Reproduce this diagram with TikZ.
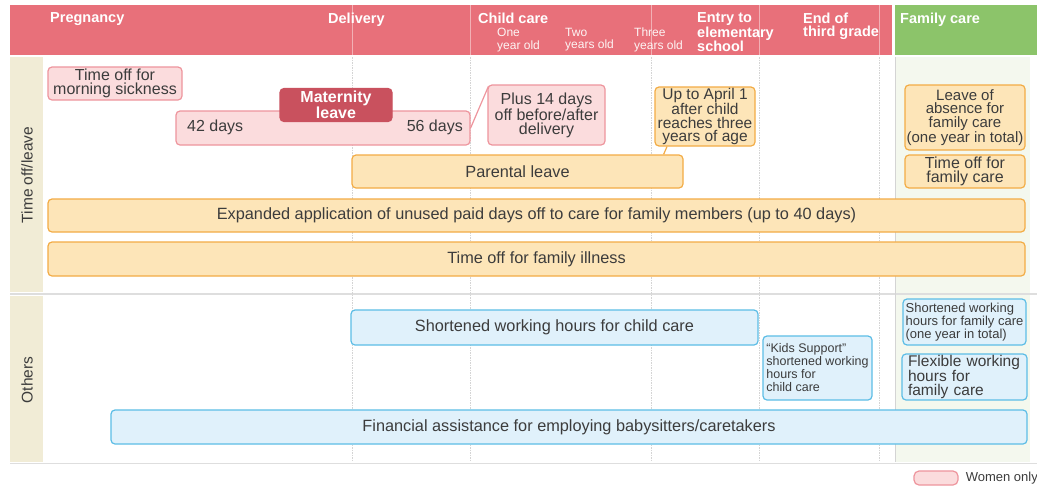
\documentclass[tikz,border=0pt]{standalone}
\usepackage{fontspec}
\setmainfont{Liberation Sans}
\usepackage{tikz}
\usetikzlibrary{positioning, calc}

\definecolor{hdrred}{HTML}{E8707A}
\definecolor{hdrgreen}{HTML}{8CC46A}
\definecolor{sidebeige}{HTML}{F1ECD6}
\definecolor{carebg}{HTML}{F4F8EE}
\definecolor{gridgray}{HTML}{D4D4D4}
\definecolor{rulegray}{HTML}{DEDEDE}
\definecolor{txt}{HTML}{3C3C3C}
\definecolor{pinkfill}{HTML}{FBDCDD}
\definecolor{pinkline}{HTML}{EE959D}
\definecolor{matdark}{HTML}{C9515E}
\definecolor{orfill}{HTML}{FDE5B8}
\definecolor{orline}{HTML}{F3AC45}
\definecolor{blfill}{HTML}{E0F1FB}
\definecolor{blline}{HTML}{5CBDE6}

\begin{document}
\begin{tikzpicture}[x=1pt, y=-1pt,
    box/.style={rounded corners=4pt, line width=1.2pt, inner sep=0pt, align=center,
        text=txt, font=\fontsize{16.3}{14}\selectfont},
    pinkbox/.style={box, draw=pinkline, fill=pinkfill},
    orbox/.style={box, draw=orline, fill=orfill},
    blbox/.style={box, draw=blline, fill=blfill},
    hdr/.style={anchor=north west, inner sep=0pt, align=left, text=white,
        font=\bfseries\fontsize{14.5}{13}\selectfont},
    hdrsub/.style={anchor=north west, inner sep=0pt, align=left, text=white!92!hdrred,
        font=\fontsize{12}{12.5}\selectfont},
    side/.style={rotate=90, inner sep=0pt, text=txt, font=\fontsize{15.5}{15}\selectfont}]
    \useasboundingbox (0,0) rectangle (1037,488);
    % Backgrounds
    \fill[white] (0,0) rectangle (1037,488);
    \fill[hdrred] (10,5) rectangle (892,55);
    \fill[hdrgreen] (895,5) rectangle (1037,55);
    \fill[carebg] (895,57) rectangle (1030,462);
    \fill[sidebeige] (10,57) rectangle (43,292);
    \fill[sidebeige] (10,296) rectangle (43,462);
    \draw[rulegray, line width=1.5pt] (10,294) -- (1037,294);
    \draw[rulegray, line width=1.5pt] (10,463.5) -- (1037,463.5);
    \draw[gridgray, line width=0.8pt] (895,57) -- (895,462);
    % Time marks
    \foreach \x in {352, 470, 651, 759, 879} {
        \draw[white, opacity=0.45, line width=0.8pt] (\x,5) -- (\x,55);
        \draw[gridgray, line width=0.8pt, dash pattern=on 1.5pt off 1pt] (\x,57) -- (\x,462);
    }
    % Header labels
    \node[hdr] (pregnancy) at (50,12.5) {Pregnancy};
    \node[hdr] (delivery) at (328,12.5) {Delivery};
    \node[hdr] (childcare) at (478,12.5) {Child care};
    \node[hdrsub] (oneyear) at (497,28) {One\\year old};
    \node[hdrsub] (twoyears) at (565,28) {Two\\years old};
    \node[hdrsub] (threeyears) at (634,28) {Three\\years old};
    \node[hdr] (entry) at (697,12.5) {Entry to\\elementary\\school};
    \node[hdr] (thirdgrade) at (803,12.5) {End of\\third grade};
    \node[hdr] (familycare) at (900,12.5) {Family care};
    % Side labels
    \node[side] (timeoff) at (27,175) {Time off/leave};
    \node[side] (others) at (27,380) {Others};
    % Time off / leave
    \node[pinkbox, minimum width=134, minimum height=33, font=\fontsize{16}{14}\selectfont] (morning) at (115,83.5) {Time off for\\morning sickness};
    \node[pinkbox, minimum width=294, minimum height=34] (matbar) at (323,128) {};
    \node[inner sep=0pt, anchor=west, text=txt, font=\fontsize{16}{14}\selectfont] (days42) at (187,127) {42 days};
    \node[inner sep=0pt, anchor=east, text=txt, font=\fontsize{16}{14}\selectfont] (days56) at (463,127) {56 days};
    \node[box, fill=matdark, draw=matdark, text=white, font=\bfseries\fontsize{16}{14}\selectfont,
        minimum width=112, minimum height=33] (matleave) at (336,105) {Maternity\\leave};
    \node[pinkbox, minimum width=117, minimum height=60, font=\fontsize{16}{14}\selectfont] (plus14) at (546.5,115) {Plus 14 days\\off before/after\\delivery};
    \node[orbox, minimum width=100, minimum height=59, font=\fontsize{15.5}{13.5}\selectfont] (april) at (705,116.5)
        {Up to April 1\\after child\\reaches three\\years of age};
    \node[orbox, minimum width=331, minimum height=33] (parental) at (517.5,171.5) {Parental leave};
    \node[orbox, minimum width=977, minimum height=33] (expanded) at (536.5,215.5)
        {Expanded application of unused paid days off to care for family members (up to 40 days)};
    \node[orbox, minimum width=977, minimum height=34] (illness) at (536.5,259) {Time off for family illness};
    \node[orbox, minimum width=120, minimum height=65, font=\fontsize{15}{13.5}\selectfont] (absence) at (965,117.5)
        {Leave of\\absence for\\family care\\(one year in total)};
    \node[orbox, minimum width=120, minimum height=33, font=\fontsize{16}{14}\selectfont] (careoff) at (965,171.5) {Time off for\\family care};
    \draw[pinkline, line width=1.2pt] (matbar.east) -- ([shift={(1,2)}]plus14.north west);
    \draw[orline, line width=1.2pt] ([xshift=-20]parental.north east) -- ([xshift=-38]april.south);
    % Others
    \node[blbox, minimum width=407, minimum height=35] (shortchild) at (554.5,327.5) {Shortened working hours for child care};
    \node[blbox, minimum width=109, minimum height=64, align=left,
        font=\fontsize{12.5}{13}\selectfont] (kids) at (817.5,368)
        {``Kids Support''\\shortened working\\hours for\\child care};
    \node[blbox, minimum width=123, minimum height=46, align=left,
        font=\fontsize{13}{13}\selectfont] (shortfam) at (964.5,322)
        {Shortened working\\hours for family care\\(one year in total)};
    \node[blbox, minimum width=125, minimum height=46, align=left, text width=113,
        font=\fontsize{15.5}{13.5}\selectfont] (flexible) at (964.5,377)
        {Flexible working\\hours for\\family care};
    \node[blbox, minimum width=916, minimum height=34] (financial) at (569,427)
        {Financial assistance for employing babysitters/caretakers};
    % Legend
    \node[pinkbox, minimum width=44, minimum height=14, rounded corners=5pt] (legend) at (936,478) {};
    \node[right=7pt of legend, inner sep=0pt, text=txt, font=\fontsize{13}{13}\selectfont] (womenonly) {Women only};
\end{tikzpicture}
\end{document}
